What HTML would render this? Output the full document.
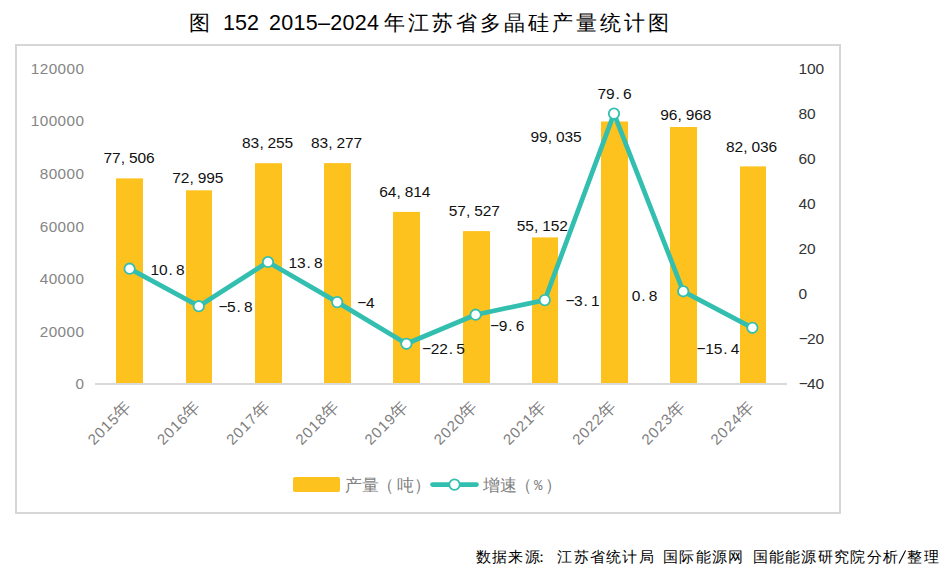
<!DOCTYPE html>
<html><head><meta charset="utf-8">
<style>
html,body{margin:0;padding:0;background:#fff;}
body{width:942px;height:569px;overflow:hidden;position:relative;}
svg{position:absolute;left:0;top:0;}
.dl{font-family:"Liberation Sans",sans-serif;font-size:15.5px;fill:#111;}
.ra{font-family:"Liberation Sans",sans-serif;font-size:15.5px;fill:#333;}
.ax{font-family:"Liberation Sans",sans-serif;font-size:15.3px;fill:#858585;letter-spacing:0.45px;}
.xl{font-family:"Liberation Sans",sans-serif;font-size:15px;fill:#808080;}
.xlc{font-size:17px;}
.tcjk{font-family:"Liberation Serif",serif;font-size:20.5px;fill:#000;}
.tnum{font-family:"Liberation Sans",sans-serif;font-size:21.5px;fill:#000;}
.foot{font-family:"Liberation Serif",serif;font-size:14.5px;fill:#000;}
.leg{font-family:"Liberation Sans",sans-serif;font-size:17px;fill:#808080;}
.legm{font-family:"Liberation Mono",monospace;font-size:14px;fill:#808080;}
</style></head><body>
<svg width="942" height="569" viewBox="0 0 942 569">
<rect x="16" y="45" width="824" height="468" fill="#fff" stroke="#D6D6D6" stroke-width="2"/>
<text class="tcjk" x="189.3" y="30">图</text>
<text class="tnum" x="223" y="30.2">152</text>
<text class="tnum" x="269" y="30.2" letter-spacing="0.3">2015–2024</text>
<text class="tcjk" x="384.0 408.0 432.0 456.0 480.0 504.0 528.0 552.0 576.0 600.0 624.0 648.0" y="30">年江苏省多晶硅产量统计图</text>
<rect x="116" y="178.4" width="27" height="204.6" fill="#FEC21F"/>
<rect x="186" y="190.3" width="26" height="192.7" fill="#FEC21F"/>
<rect x="255" y="163.2" width="27" height="219.8" fill="#FEC21F"/>
<rect x="324" y="163.1" width="27" height="219.9" fill="#FEC21F"/>
<rect x="393" y="211.9" width="27" height="171.1" fill="#FEC21F"/>
<rect x="463" y="231.1" width="27" height="151.9" fill="#FEC21F"/>
<rect x="532" y="237.4" width="26" height="145.6" fill="#FEC21F"/>
<rect x="601" y="121.5" width="27" height="261.5" fill="#FEC21F"/>
<rect x="670" y="127.0" width="27" height="256.0" fill="#FEC21F"/>
<rect x="740" y="166.4" width="26" height="216.6" fill="#FEC21F"/>

<rect x="95" y="383" width="692" height="2" fill="#D9D9D9"/>
<polyline points="129.6,268.7 198.8,306.2 268.0,262.0 337.2,302.1 406.4,343.8 475.6,314.7 544.8,300.1 614.0,113.6 683.2,291.3 752.4,327.8" fill="none" stroke="#33BFB0" stroke-width="4.75" stroke-linejoin="round"/>
<circle cx="129.6" cy="268.7" r="5.2" fill="#fff" stroke="#33BFB0" stroke-width="1.8"/>
<circle cx="198.8" cy="306.2" r="5.2" fill="#fff" stroke="#33BFB0" stroke-width="1.8"/>
<circle cx="268.0" cy="262.0" r="5.2" fill="#fff" stroke="#33BFB0" stroke-width="1.8"/>
<circle cx="337.2" cy="302.1" r="5.2" fill="#fff" stroke="#33BFB0" stroke-width="1.8"/>
<circle cx="406.4" cy="343.8" r="5.2" fill="#fff" stroke="#33BFB0" stroke-width="1.8"/>
<circle cx="475.6" cy="314.7" r="5.2" fill="#fff" stroke="#33BFB0" stroke-width="1.8"/>
<circle cx="544.8" cy="300.1" r="5.2" fill="#fff" stroke="#33BFB0" stroke-width="1.8"/>
<circle cx="614.0" cy="113.6" r="5.2" fill="#fff" stroke="#33BFB0" stroke-width="1.8"/>
<circle cx="683.2" cy="291.3" r="5.2" fill="#fff" stroke="#33BFB0" stroke-width="1.8"/>
<circle cx="752.4" cy="327.8" r="5.2" fill="#fff" stroke="#33BFB0" stroke-width="1.8"/>

<text x="103.4 111.9 120.7 128.9 137.4 145.9" y="163.1" class="dl">77,506</text>
<text x="172.2 180.7 189.5 197.7 206.2 214.7" y="183.0" class="dl">72,995</text>
<text x="242.1 250.6 259.4 267.6 276.1 284.6" y="147.9" class="dl">83,255</text>
<text x="310.9 319.4 328.2 336.4 344.9 353.4" y="147.9" class="dl">83,277</text>
<text x="379.2 387.7 396.5 404.7 413.2 421.7" y="197.2" class="dl">64,814</text>
<text x="448.7 457.2 466.0 474.2 482.7 491.2" y="216.0" class="dl">57,527</text>
<text x="516.7 525.2 534.0 542.2 550.7 559.2" y="231.1" class="dl">55,152</text>
<text x="530.4 538.9 547.7 555.9 564.4 572.9" y="142.1" class="dl">99,035</text>
<text x="660.2 668.7 677.5 685.7 694.2 702.7" y="120.0" class="dl">96,968</text>
<text x="725.9 734.4 743.2 751.4 759.9 768.4" y="152.3" class="dl">82,036</text>
<text x="150.6 159.1 168.6 176.1" y="275.0" class="dl">10.8</text>
<text x="218.4 227.1 236.6 244.1" y="311.5" class="dl">−5.8</text>
<text x="288.5 297.0 306.5 314.0" y="267.6" class="dl">13.8</text>
<text x="357.3 366.0" y="307.7" class="dl">−4</text>
<text x="422.1 430.8 439.3 448.8 456.3" y="354.0" class="dl">−22.5</text>
<text x="490.0 498.7 508.2 515.7" y="331.0" class="dl">−9.6</text>
<text x="565.4 574.1 583.6 591.1" y="305.9" class="dl">−3.1</text>
<text x="597.5 606.0 615.5 623.0" y="98.8" class="dl">79.6</text>
<text x="631.7 641.2 648.7" y="300.8" class="dl">0.8</text>
<text x="696.6 705.3 713.8 723.3 730.8" y="354.0" class="dl">−15.4</text>

<text x="84.5" y="73.9" class="ax" text-anchor="end">120000</text>
<text x="84.5" y="126.4" class="ax" text-anchor="end">100000</text>
<text x="84.5" y="178.9" class="ax" text-anchor="end">80000</text>
<text x="84.5" y="231.5" class="ax" text-anchor="end">60000</text>
<text x="84.5" y="284.0" class="ax" text-anchor="end">40000</text>
<text x="84.5" y="336.5" class="ax" text-anchor="end">20000</text>
<text x="84.5" y="389.0" class="ax" text-anchor="end">0</text>

<text x="798.4 806.9 815.4" y="74.1" class="ra">100</text>
<text x="798.4 806.9" y="119.1" class="ra">80</text>
<text x="798.4 806.9" y="164.1" class="ra">60</text>
<text x="798.4 806.9" y="209.1" class="ra">40</text>
<text x="798.4 806.9" y="254.1" class="ra">20</text>
<text x="798.4" y="299.1" class="ra">0</text>
<text x="798.8 806.9 815.4" y="344.1" class="ra">−20</text>
<text x="798.8 806.9 815.4" y="389.1" class="ra">−40</text>

<text class="xl" text-anchor="end" transform="translate(132.2,407.5) rotate(-45)"><tspan letter-spacing="0.9">2015</tspan><tspan class="xlc">年</tspan></text>
<text class="xl" text-anchor="end" transform="translate(201.4,407.5) rotate(-45)"><tspan letter-spacing="0.9">2016</tspan><tspan class="xlc">年</tspan></text>
<text class="xl" text-anchor="end" transform="translate(270.6,407.5) rotate(-45)"><tspan letter-spacing="0.9">2017</tspan><tspan class="xlc">年</tspan></text>
<text class="xl" text-anchor="end" transform="translate(339.8,407.5) rotate(-45)"><tspan letter-spacing="0.9">2018</tspan><tspan class="xlc">年</tspan></text>
<text class="xl" text-anchor="end" transform="translate(409.0,407.5) rotate(-45)"><tspan letter-spacing="0.9">2019</tspan><tspan class="xlc">年</tspan></text>
<text class="xl" text-anchor="end" transform="translate(478.2,407.5) rotate(-45)"><tspan letter-spacing="0.9">2020</tspan><tspan class="xlc">年</tspan></text>
<text class="xl" text-anchor="end" transform="translate(547.4,407.5) rotate(-45)"><tspan letter-spacing="0.9">2021</tspan><tspan class="xlc">年</tspan></text>
<text class="xl" text-anchor="end" transform="translate(616.6,407.5) rotate(-45)"><tspan letter-spacing="0.9">2022</tspan><tspan class="xlc">年</tspan></text>
<text class="xl" text-anchor="end" transform="translate(685.8,407.5) rotate(-45)"><tspan letter-spacing="0.9">2023</tspan><tspan class="xlc">年</tspan></text>
<text class="xl" text-anchor="end" transform="translate(755.0,407.5) rotate(-45)"><tspan letter-spacing="0.9">2024</tspan><tspan class="xlc">年</tspan></text>

<rect x="293" y="477" width="47" height="15" rx="2" fill="#FEC21F"/>
<text class="leg" x="344.5 361.5 377.2 396.5 413.5" y="490.5">产量（吨）</text>
<line x1="432.5" y1="484.6" x2="476.5" y2="484.6" stroke="#33BFB0" stroke-width="4.75" stroke-linecap="round"/>
<circle cx="454.5" cy="484.6" r="5.2" fill="#fff" stroke="#33BFB0" stroke-width="1.8"/>
<text class="leg" x="482.5 499.5 514.5" y="490.5">增速（</text><text class="legm" x="534" y="490">%</text><text class="leg" x="544.6" y="490.5">）</text>
<text class="foot" x="475.8 492.1 508.4 524.6 534.4 557.2 573.5 589.8 606.0 622.3 638.6 654.9 663.0 679.3 695.6 711.9 728.1 744.4 752.6 768.8 785.1 801.4 817.7 834.0 850.2 866.5 882.8 899.1 907.2 923.5" y="562">数据来源：江苏省统计局 国际能源网 国能能源研究院分析 整理</text>
<line x1="899" y1="563.5" x2="905.6" y2="550.5" stroke="#000" stroke-width="1.1"/>
</svg>
</body></html>
